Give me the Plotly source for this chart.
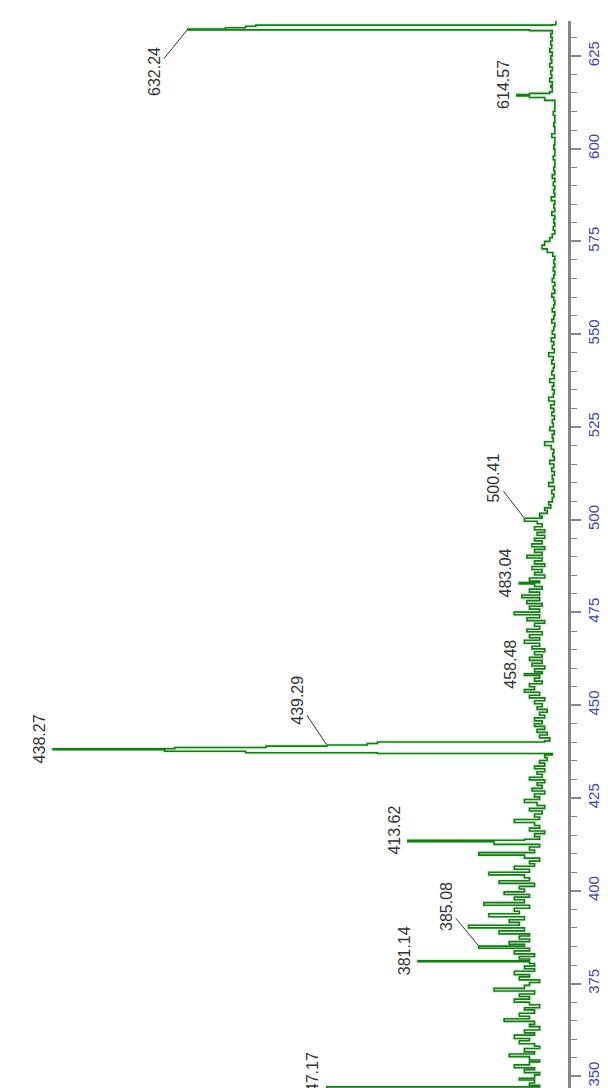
import plotly.graph_objects as go

# ---- spectrum (m/z, relative intensity %) ----
mz = [
    345.0, 345.6, 346.3, 347.17, 347.6, 348.2, 349.0, 349.5, 350.4, 351.0, 351.8, 352.3, 353.1,
    353.9, 354.4, 355.3, 356.0, 356.6, 357.5, 358.1, 358.8, 359.6, 360.2, 361.1, 361.7, 362.5,
    363.4, 364.0, 364.8, 365.5, 366.2, 367.0, 367.9, 368.5, 369.3, 370.0, 370.8, 371.5, 372.2,
    373.0, 373.7, 374.5, 375.3, 376.0, 376.8, 377.4, 378.3, 379.0, 379.7, 380.4, 380.9, 381.14,
    381.6, 382.3, 383.0, 383.8, 384.5, 385.08, 385.6, 386.3, 387.0, 387.8, 388.4, 389.2, 390.0,
    390.7, 391.5, 392.2, 393.0, 393.8, 394.5, 395.3, 396.1, 396.8, 397.6, 398.3, 399.0, 399.7,
    400.5, 401.2, 402.0, 402.7, 403.5, 404.3, 405.0, 405.8, 406.6, 407.3, 408.0, 408.8, 409.6,
    410.3, 411.0, 411.8, 412.5, 413.2, 413.62, 413.9, 414.6, 415.4, 416.1, 416.9, 417.6, 418.4,
    419.2, 419.9, 420.7, 421.5, 422.2, 423.0, 423.8, 424.6, 425.3, 426.1, 426.9, 427.6, 428.4,
    429.1, 429.9, 430.6, 431.4, 432.1, 432.9, 433.6, 434.4, 435.1, 435.9, 436.6, 437.0,
    437.2, 437.6, 438.0, 438.27, 438.6, 439.0, 439.29, 439.7, 440.1,
    440.4, 441.2, 442.0, 442.7, 443.5, 444.3, 445.0, 445.8, 446.6, 447.3, 448.1, 448.9, 449.6,
    450.4, 451.2, 452.0, 452.7, 453.5, 454.2, 455.0, 455.8, 456.5, 457.3, 458.0, 458.48, 459.0,
    459.8, 460.6, 461.3, 462.1, 462.9, 463.6, 464.4, 465.2, 465.9, 466.7, 467.5, 468.2, 469.0,
    469.8, 470.5, 471.3, 472.1, 472.8, 473.6, 474.4, 475.1, 475.9, 476.7, 477.4, 478.2, 479.0,
    479.7, 480.5, 481.3, 482.0, 482.7, 483.04, 483.5, 484.3, 485.1, 485.8, 486.6, 487.4, 488.1,
    488.9, 489.7, 490.4, 491.2, 492.0, 492.7, 493.5, 494.3, 495.0, 495.8, 496.6, 497.3, 498.1,
    498.9, 499.6, 500.41, 500.9, 501.7, 502.5, 503.2, 504.0, 504.8,
    506, 507, 508, 509, 510, 511, 512, 513, 514, 515, 516, 517, 518, 519, 520, 521, 522, 523,
    524, 525, 526, 527, 528, 529, 530, 531, 532, 533, 534, 535, 536, 537, 538, 539, 540, 541,
    542, 543, 544, 545, 546, 547, 548, 549, 550, 551, 552, 553, 554, 555, 556, 557, 558, 559,
    560, 561, 562, 563, 564, 565, 566, 567, 568, 569, 570, 571, 572, 573, 574, 575, 576, 577,
    578, 579, 580, 581, 582, 583, 584, 585, 586, 587, 588, 589, 590, 591, 592, 593, 594, 595,
    596, 597, 598, 599, 600, 601, 602, 603, 604, 605, 606, 607, 608, 609, 610, 611, 612, 613,
    613.8, 614.2, 614.57, 614.9, 615.3, 615.8, 616.5, 617, 618, 619, 620, 621, 622, 623, 624,
    625, 626, 627, 628, 629, 630, 631, 631.8, 632.0, 632.24, 632.6, 633.0, 633.3, 633.4, 634, 634.5,
]
intensity = [
    4, 6, 3, 46, 4, 6, 5, 8, 5, 4, 7, 5, 9,
    6, 4, 6, 10, 5, 7, 4, 5, 8, 6, 9, 5, 7,
    4, 6, 5, 11, 6, 8, 5, 7, 4, 6, 9, 6, 8,
    5, 13, 7, 6, 4, 8, 6, 9, 5, 7, 5, 6, 28,
    6, 8, 5, 9, 6, 16, 7, 10, 6, 8, 6, 12, 7,
    18, 8, 10, 7, 14, 8, 9, 6, 15, 7, 9, 6, 11,
    7, 8, 5, 12, 6, 7, 14, 6, 9, 5, 6, 4, 7,
    16, 5, 6, 4, 13, 30, 7, 4, 5, 3, 6, 4, 5,
    9, 4, 5, 3.5, 6, 3, 4.5, 7, 4, 5, 3, 5.5, 3.5,
    4.5, 3, 6, 3.5, 4.5, 3, 5, 3, 4, 2.5, 3, 1.5,
    36, 62, 78, 100, 76, 58, 46, 38, 36,
    3, 2, 4, 2.5, 4.5, 3, 5, 3.5, 5, 3, 4, 2.5, 4.5,
    3.5, 5, 3, 6, 4, 7, 5, 6, 3.5, 5, 4, 7, 3.5,
    5, 3, 5.5, 3.5, 6, 3.5, 5, 3, 5.5, 4, 7, 4, 6,
    3.5, 6.5, 4, 5, 3, 6.5, 4, 9, 4, 6, 3.5, 6.5, 4,
    7.5, 4, 6, 3.5, 5, 8, 4, 6, 3, 5, 3.5, 5.5, 3,
    5, 3.5, 6.5, 3.5, 5, 3, 5.5, 3.5, 5, 3, 4.5, 3, 5,
    3.5, 4.5, 7, 3.5, 4, 2.5, 3, 1.8, 2.2,
    1.5, 1.2, 1.6, 1.1, 2.2, 1.3, 1.5, 1.1, 1.6, 1.2, 2.0, 1.1, 1.4, 1.2, 1.7, 3.0, 1.3, 1.5,
    1.1, 2.0, 1.3, 1.5, 1.1, 1.6, 1.2, 1.8, 1.1, 2.2, 1.3, 1.1, 1.5, 1.2, 2.0, 1.1, 1.6, 1.3,
    1.1, 1.6, 1.3, 2.2, 1.1, 1.5, 1.2, 1.7, 1.0, 1.5, 1.2, 1.0, 1.6, 1.2, 1.0, 1.5, 1.2, 1.0,
    1.2, 1.6, 1.0, 1.3, 1.0, 1.5, 1.2, 1.0, 1.3, 1.0, 1.2, 1.0, 1.4, 2.5, 3.5, 3.0, 2.0, 1.5,
    1.0, 1.3, 1.0, 1.2, 1.0, 1.6, 1.0, 1.2, 1.0, 1.7, 1.0, 1.2, 1.0, 1.3, 1.0, 1.5, 1.0, 1.2,
    1.0, 1.0, 1.3, 1.0, 1.0, 1.2, 1.0, 1.0, 1.6, 1.0, 1.0, 1.2, 1.0, 1.0, 1.3, 1.0, 1.0, 1.0,
    3, 6, 8.5, 6, 2, 1.5, 1.5, 1.8, 1.5, 2, 1.6, 1.8, 1.5, 2, 1.6,
    1.8, 1.5, 2, 1.6, 1.8, 1.5, 1.8, 1.5, 6, 73.4, 66, 62, 60, 1.5, 0.8, 0.8,
]

# ---- labelled peaks ----
peak_labels = ["632.24", "614.57", "500.41", "483.04", "458.48", "439.29",
               "438.27", "413.62", "385.08", "381.14", "347.17"]
peak_mz = [632.24, 614.57, 500.41, 483.04, 458.48, 439.29, 438.27, 413.62, 385.08, 381.14, 347.17]
peak_int = [73.4, 8.5, 7.0, 8.0, 7.0, 46.0, 100.0, 30.0, 16.0, 28.0, 46.0]

# ---- axis ticks ----
tick_vals = [350, 375, 400, 425, 450, 475, 500, 525, 550, 575, 600, 625]
tick_text = ["350", "375", "400", "425", "450", "475", "500", "525", "550", "575", "600", "625"]

# label offsets (pixels) for labels drawn with a leader line
leader = {"632.24": (-34, 42), "439.29": (-30, -45), "500.41": (-31, -40), "385.08": (-33, -40)}

FONT = "Liberation Sans, Arial, sans-serif"

fig = go.Figure()
fig.add_trace(go.Scatter(x=intensity, y=mz, mode="lines", line_shape="hv",
                         line=dict(color="rgba(150,230,150,0.3)", width=4),
                         hoverinfo="skip", showlegend=False))
fig.add_trace(go.Scatter(x=intensity, y=mz, mode="lines", line_shape="hv",
                         line=dict(color="#1c761c", width=1.6),
                         showlegend=False))

annotations = []
for lab, m, v in zip(peak_labels, peak_mz, peak_int):
    if lab in leader:
        ax, ay = leader[lab]
        annotations.append(dict(x=v, y=m, xref="x", yref="y", text=lab, textangle=-90,
                                showarrow=True, arrowhead=0, arrowwidth=1, arrowcolor="#333333",
                                ax=ax, ay=ay, standoff=1,
                                font=dict(family=FONT, size=16, color="#333333")))
    else:
        annotations.append(dict(x=v, y=m, xref="x", yref="y", text=lab, textangle=-90,
                                showarrow=False, xanchor="right", yanchor="middle",
                                xshift=-3, yshift=10,
                                font=dict(family=FONT, size=16, color="#333333")))

fig.update_layout(
    width=608, height=1088,
    margin=dict(l=0, r=48, t=13, b=0),
    paper_bgcolor="white", plot_bgcolor="white",
    annotations=annotations,
    xaxis=dict(range=[108.9, -1.6], visible=False, showgrid=False, zeroline=False),
    yaxis=dict(range=[344.7, 634.4], side="right", showgrid=False, zeroline=False,
               showline=True, linecolor="#8a8580", linewidth=2.5,
               ticks="outside", ticklen=10, tickwidth=1.5, tickcolor="#8a8580",
               tickvals=tick_vals, ticktext=tick_text, tickangle=-90,
               tickfont=dict(family=FONT, size=15, color="#4646a0"),
               minor=dict(dtick=5, ticks="outside", ticklen=6, tickcolor="#8a8580", tickwidth=1.2)),
)

fig.write_html("out.html")
